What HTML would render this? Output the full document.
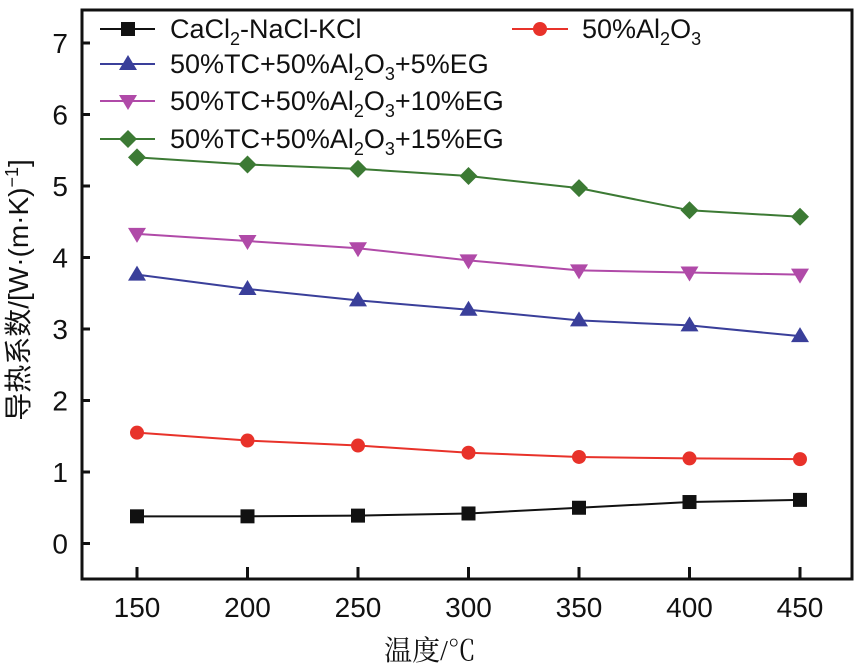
<!DOCTYPE html>
<html><head><meta charset="utf-8"><style>
body{margin:0;background:#fff}
svg{display:block;font-family:"Liberation Sans","Noto Sans CJK SC",sans-serif}
</style></head><body>
<svg id="c" width="860" height="669" viewBox="0 0 860 669">
<rect x="82" y="10" width="770" height="569" fill="none" stroke="#111" stroke-width="3"/>
<g id="axes"></g>
<g id="series"></g>
<g id="legend" font-size="27" fill="#111">
 <g><line x1="100" y1="29" x2="155" y2="29" stroke="#111" stroke-width="2"/><rect x="121" y="22" width="14" height="14" fill="#111"/><text x="170" y="38">CaCl<tspan font-size="18" dy="7">2</tspan><tspan dy="-7">-NaCl-KCl</tspan></text></g>
 <g><line x1="512" y1="29" x2="568" y2="29" stroke="#e8322a" stroke-width="2"/><circle cx="540" cy="29" r="7" fill="#e8322a"/><text x="582" y="38">50%Al<tspan font-size="18" dy="7">2</tspan><tspan dy="-7">O</tspan><tspan font-size="18" dy="7">3</tspan></text></g>
 <g><line x1="100" y1="64" x2="155" y2="64" stroke="#3a3f9a" stroke-width="2"/><polygon points="128,55 137,70 119,70" fill="#3a3f9a"/><text x="170" y="73">50%TC+50%Al<tspan font-size="18" dy="7">2</tspan><tspan dy="-7">O</tspan><tspan font-size="18" dy="7">3</tspan><tspan dy="-7">+5%EG</tspan></text></g>
 <g><line x1="100" y1="101" x2="155" y2="101" stroke="#b04aa8" stroke-width="2"/><polygon points="119,95 137,95 128,110" fill="#b04aa8"/><text x="170" y="110">50%TC+50%Al<tspan font-size="18" dy="7">2</tspan><tspan dy="-7">O</tspan><tspan font-size="18" dy="7">3</tspan><tspan dy="-7">+10%EG</tspan></text></g>
 <g><line x1="100" y1="139" x2="155" y2="139" stroke="#3c7a34" stroke-width="2"/><polygon points="128,130 137,139 128,148 119,139" fill="#3c7a34"/><text x="170" y="148">50%TC+50%Al<tspan font-size="18" dy="7">2</tspan><tspan dy="-7">O</tspan><tspan font-size="18" dy="7">3</tspan><tspan dy="-7">+15%EG</tspan></text></g>
</g>
<text x="430" y="660" font-size="28" text-anchor="middle" font-family="Liberation Serif,'Noto Serif CJK SC',serif" fill="#111">温度/℃</text>
<text transform="translate(28,290) rotate(-90)" font-size="28" text-anchor="middle" fill="#111">导热系数/[W·(m·K)<tspan font-size="18" dy="-10">−1</tspan><tspan dy="10">]</tspan></text>
</svg>
<script>
const temps=[150,200,250,300,350,400,450];
const yTicks=[0,1,2,3,4,5,6,7];
const sBase=[0.38,0.38,0.39,0.42,0.50,0.58,0.61];
const sAl=[1.55,1.44,1.37,1.27,1.21,1.19,1.18];
const s5=[3.76,3.56,3.40,3.27,3.12,3.05,2.90];
const s10=[4.33,4.23,4.13,3.96,3.82,3.79,3.76];
const s15=[5.40,5.30,5.24,5.14,4.97,4.66,4.57];
const NS='http://www.w3.org/2000/svg';
const X=v=>137+(v-150)*(800-137)/300;
const Y=v=>543.5-v*71.5;
function mk(t,a,p){const e=document.createElementNS(NS,t);for(const k in a)e.setAttribute(k,a[k]);p.appendChild(e);return e;}
const ax=document.getElementById('axes');
yTicks.forEach(v=>{
 const l=mk('line',{x1:82,x2:90,y1:Y(v),y2:Y(v),stroke:'#111','stroke-width':3},ax);
 
 
 const t=mk('text',{x:68,y:Y(v)+10,'font-size':28,'text-anchor':'end',fill:'#111'},ax);t.textContent=v;
 
 
});
temps.forEach(v=>{
 const l=mk('line',{x1:X(v),x2:X(v),y1:567,y2:579,stroke:'#111','stroke-width':3},ax);
 
 
 const t=mk('text',{x:X(v),y:617,'font-size':28,'text-anchor':'middle',fill:'#111'},ax);t.textContent=v;
 
 
});
const sg=document.getElementById('series');
function series(vals,color,shape,name){
 const g=mk('g',{},sg);
 
 
 mk('polyline',{points:vals.map((v,i)=>X(temps[i])+','+Y(v)).join(' '),fill:'none',stroke:color,'stroke-width':2},g);
 vals.forEach((v,i)=>{const x=X(temps[i]),y=Y(v);let m;
  if(shape==='sq')m=mk('rect',{x:x-7,y:y-7,width:14,height:14,fill:color},g);
  else if(shape==='c')m=mk('circle',{cx:x,cy:y,r:7,fill:color},g);
  else if(shape==='up')m=mk('polygon',{points:`${x},${y-9} ${x+9},${y+6} ${x-9},${y+6}`,fill:color},g);
  else if(shape==='dn')m=mk('polygon',{points:`${x-9},${y-6} ${x+9},${y-6} ${x},${y+9}`,fill:color},g);
  else m=mk('polygon',{points:`${x},${y-9} ${x+9},${y} ${x},${y+9} ${x-9},${y}`,fill:color},g);
  
  
 });
}
series(sBase,'#111','sq','series-cacl2');
series(sAl,'#e8322a','c','series-al2o3');
series(s5,'#3a3f9a','up','series-5eg');
series(s10,'#b04aa8','dn','series-10eg');
series(s15,'#3c7a34','d','series-15eg');
</script>
</body></html>
